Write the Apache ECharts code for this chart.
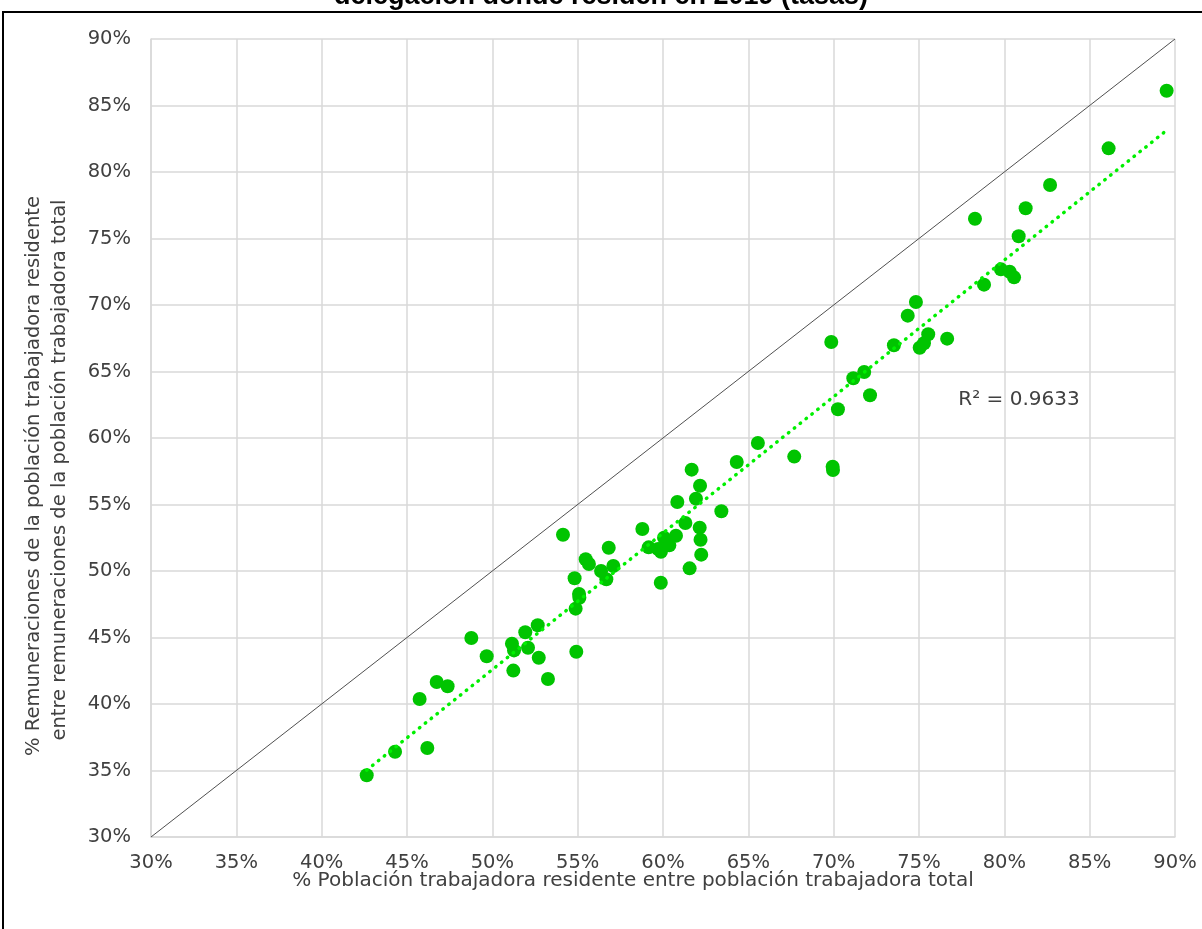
<!DOCTYPE html>
<html>
<head>
<meta charset="utf-8">
<script src="https://cdn.jsdelivr.net/npm/echarts@6/dist/echarts.min.js"></script>
<style>
html,body{margin:0;padding:0;background:#fff;}
#chart{width:1202px;height:929px;}
</style>
</head>
<body>
<div id="chart"></div>
<script>
// Data (percent)
const xValues = [42.64,44.30,46.19,45.74,46.74,47.38,48.77,49.67,51.15,51.27,51.23,51.93,52.09,52.66,52.72,53.26,54.14,54.92,54.82,55.08,55.10,54.88,55.47,55.66,56.37,57.09,56.68,56.82,58.79,59.16,59.71,59.88,59.87,60.06,60.37,60.76,60.84,61.31,61.56,61.68,61.93,62.15,62.20,62.24,62.17,63.42,64.32,65.56,67.69,69.94,69.96,69.86,70.25,71.15,71.79,72.13,73.53,74.34,74.82,75.04,75.29,75.54,76.65,78.28,78.81,79.80,80.31,80.57,80.84,81.25,82.68,86.11,89.51];
const yValues = [34.64,36.41,36.69,40.38,41.65,41.33,44.96,43.59,44.53,44.03,42.51,45.39,44.23,45.92,43.48,41.88,52.73,43.93,49.45,48.27,47.99,47.17,50.88,50.53,50.00,50.38,49.38,51.75,53.16,51.78,51.65,51.45,49.12,52.50,51.93,52.65,55.19,53.61,50.20,57.62,55.44,53.26,52.35,51.23,56.41,54.49,58.20,59.62,58.60,57.84,57.59,67.22,62.16,64.49,64.96,63.21,66.97,69.20,70.23,66.79,67.12,67.80,67.47,76.49,71.53,72.68,72.50,72.08,75.17,77.27,79.02,81.78,86.11];
const identityRange = [30, 90];
const axisTicks = [30,35,40,45,50,55,60,65,70,75,80,85,90];
const titleText = 'delegación donde residen en 2019 (tasas)';
const xAxisName = '% Población trabajadora residente entre población trabajadora total';
const yAxisName1 = '% Remuneraciones de la población trabajadora residente';
const yAxisName2 = 'entre remuneraciones de la población trabajadora total';
const r2Text = 'R² = 0.9633';

const points = xValues.map((x, i) => [x, yValues[i]]);
// least-squares trendline
const n = xValues.length;
const mx = xValues.reduce((a,b)=>a+b,0)/n;
const my = yValues.reduce((a,b)=>a+b,0)/n;
let sxy=0, sxx=0;
for (let i=0;i<n;i++){ sxy += (xValues[i]-mx)*(yValues[i]-my); sxx += (xValues[i]-mx)**2; }
const slope = sxy/sxx, intercept = my - slope*mx;
const xmin = Math.min(...xValues), xmax = Math.max(...xValues);
const trend = [[xmin, intercept+slope*xmin],[xmax, intercept+slope*xmax]];

const FONT = 'DejaVu Sans';
const TXT = '#404040';
const chart = echarts.init(document.getElementById('chart'));
const axisCommon = {
  type: 'value', min: axisTicks[0], max: axisTicks[axisTicks.length-1], interval: 5,
  axisLabel: { formatter: '{value}%', color: TXT, fontFamily: FONT, fontSize: 19.5 },
  axisLine: { show: true, lineStyle: { color: '#d9d9d9', width: 1.5 } },
  axisTick: { show: false },
  splitLine: { show: true, lineStyle: { color: '#d9d9d9', width: 1.5 } }
};
chart.setOption({
  animation: false,
  backgroundColor: '#fff',
  grid: { left: 151, right: 27, top: 39, bottom: 92 },
  xAxis: Object.assign({}, axisCommon, { axisLabel: Object.assign({}, axisCommon.axisLabel, { margin: 16 }) }),
  yAxis: Object.assign({}, axisCommon, { axisLabel: Object.assign({}, axisCommon.axisLabel, { margin: 20 }) }),
  graphic: [
    { type: 'rect', shape: { x: 3, y: 12, width: 1300, height: 1000 }, style: { fill: 'none', stroke: '#000', lineWidth: 2 }, silent: true },
    { type: 'text', x: 601, y: 10, style: { text: titleText, fontFamily: 'Liberation Sans', fontWeight: 'bold', fontSize: 27, fill: '#000', textAlign: 'center', textVerticalAlign: 'bottom' }, z: 10 },
    { type: 'text', x: 633, y: 881, style: { text: xAxisName, fontFamily: FONT, fontSize: 20, fill: TXT, textAlign: 'center', textVerticalAlign: 'middle' } },
    { type: 'text', x: 34, y: 476, rotation: Math.PI/2, style: { text: yAxisName1, fontFamily: FONT, fontSize: 19.5, fill: TXT, textAlign: 'center', textVerticalAlign: 'middle' } },
    { type: 'text', x: 60, y: 470, rotation: Math.PI/2, style: { text: yAxisName2, fontFamily: FONT, fontSize: 19.5, fill: TXT, textAlign: 'center', textVerticalAlign: 'middle' } },
    { type: 'text', x: 1019, y: 400, style: { text: r2Text, fontFamily: FONT, fontSize: 20, fill: TXT, textAlign: 'center', textVerticalAlign: 'middle' } }
  ],
  series: [
    { type: 'line', data: [[identityRange[0], identityRange[0]], [identityRange[1], identityRange[1]]], symbol: 'none', lineStyle: { color: '#505050', width: 1 }, z: 1, silent: true },
    { type: 'scatter', data: points, symbol: 'circle', symbolSize: 14, itemStyle: { color: '#00c400', opacity: 1 }, z: 2 },
    { type: 'line', data: trend, symbol: 'none', lineStyle: { color: '#00f000', width: 3.5, type: [0.5, 7], cap: 'round' }, z: 3, silent: true }
  ]
});
</script>
</body>
</html>
